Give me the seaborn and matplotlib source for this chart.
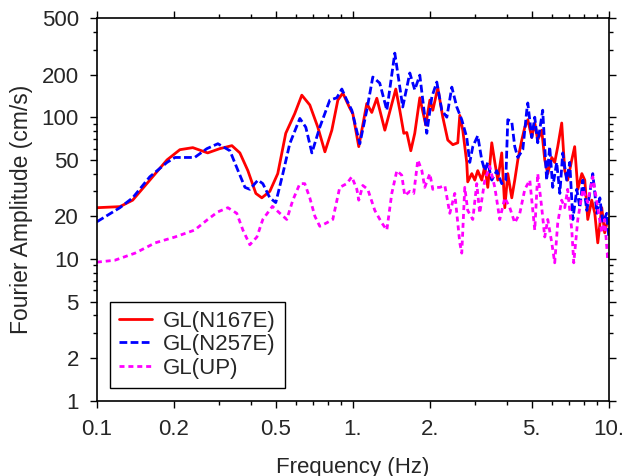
import matplotlib
matplotlib.use("Agg")
import matplotlib.pyplot as plt
from matplotlib.ticker import FixedLocator, FixedFormatter, NullFormatter, LogLocator
import pandas as pd
import seaborn as sns

# Fourier amplitude spectra
FREQ_NS = [0.100, 0.123, 0.138, 0.161, 0.188, 0.211, 0.237, 0.271, 0.302, 0.337,
           0.362, 0.389, 0.418, 0.441, 0.474, 0.509, 0.547, 0.593, 0.632, 0.679,
           0.730, 0.778, 0.828, 0.874, 0.914, 0.973, 1.000, 1.055, 1.134, 1.186,
           1.241, 1.334, 1.472, 1.526, 1.582, 1.625, 1.685, 1.746, 1.827, 1.928,
           2.000, 2.054, 2.148, 2.247, 2.350, 2.459, 2.571, 2.618, 2.689, 2.787,
           2.812, 2.917, 2.996, 3.077, 3.190, 3.279, 3.368, 3.491, 3.588, 3.685,
           3.819, 3.925, 4.032, 4.179, 4.293, 4.413, 4.573, 4.699, 4.827, 5.003,
           5.139, 5.279, 5.472, 5.623, 5.777, 5.990, 6.150, 6.320, 6.550, 6.730,
           6.910, 7.170, 7.360, 7.570, 7.850, 8.060, 8.280, 8.580, 8.820, 9.060,
           9.390, 9.640, 9.910, 10.00]
AMP_NS = [23, 23.4, 26, 36, 50, 59, 61, 56, 60, 63,
          56, 42, 29, 27, 30, 40, 77, 106, 143, 122,
          85, 57, 81, 132, 148, 116, 106, 62, 125, 108,
          136, 81, 158, 112, 77, 78, 58, 77, 137, 88,
          132, 112, 161, 100, 69, 64, 66, 103, 81, 48,
          35, 40, 36, 42, 36, 45, 32, 66, 48, 36,
          56, 23, 40, 27, 36, 50, 69, 85, 96, 72,
          91, 69, 81, 50, 40, 52, 48, 62, 91, 42,
          36, 50, 62, 31, 40, 36, 19, 26, 21, 13,
          23, 15.3, 19, 18]

FREQ_EW = [0.100, 0.123, 0.138, 0.161, 0.188, 0.202, 0.241, 0.269, 0.297, 0.331,
           0.356, 0.379, 0.396, 0.426, 0.445, 0.474, 0.500, 0.533, 0.567, 0.621,
           0.655, 0.692, 0.743, 0.813, 0.866, 0.906, 0.947, 0.991, 1.065, 1.134,
           1.197, 1.274, 1.358, 1.459, 1.567, 1.670, 1.746, 1.827, 1.945, 2.036,
           2.129, 2.227, 2.330, 2.437, 2.548, 2.665, 2.787, 2.864, 2.943, 3.077,
           3.190, 3.279, 3.368, 3.491, 3.652, 3.819, 3.960, 4.032, 4.179, 4.293,
           4.413, 4.615, 4.784, 4.827, 5.003, 5.139, 5.279, 5.520, 5.720, 5.880,
           6.040, 6.260, 6.440, 6.610, 6.850, 7.040, 7.240, 7.500, 7.710, 7.920,
           8.210, 8.430, 8.660, 8.990, 9.230, 9.480, 9.820, 10.00]
AMP_EW = [18.3, 23, 27, 38, 48, 52, 52, 60, 65, 58,
          42, 32, 31, 36, 34, 27, 25, 40, 65, 98,
          85, 56, 85, 132, 137, 158, 132, 112, 65, 112,
          192, 174, 112, 283, 118, 205, 156, 198, 77, 139,
          177, 112, 100, 163, 118, 96, 72, 48, 62, 74,
          50, 42, 48, 36, 42, 34, 36, 96, 93, 62,
          52, 59, 112, 126, 72, 100, 66, 112, 36, 62,
          32, 48, 29, 56, 36, 48, 19, 31, 23, 36,
          22, 29, 40, 21, 27, 18, 21, 14.3]

FREQ_UP = [0.100, 0.1175, 0.141, 0.169, 0.202, 0.241, 0.271, 0.297, 0.325, 0.352,
           0.372, 0.396, 0.422, 0.445, 0.485, 0.519, 0.552, 0.583, 0.621, 0.649,
           0.679, 0.711, 0.743, 0.791, 0.835, 0.889, 0.947, 0.991, 1.037, 1.055,
           1.094, 1.144, 1.219, 1.297, 1.358, 1.420, 1.486, 1.553, 1.596, 1.670,
           1.730, 1.795, 1.861, 1.910, 2.000, 2.054, 2.129, 2.187, 2.288, 2.393,
           2.503, 2.618, 2.665, 2.738, 2.812, 2.943, 3.050, 3.133, 3.279, 3.429,
           3.588, 3.751, 3.925, 4.105, 4.293, 4.492, 4.699, 4.914, 5.139, 5.279,
           5.472, 5.623, 5.777, 5.990, 6.150, 6.320, 6.550, 6.730, 6.910, 7.170,
           7.300, 7.570, 7.920, 8.280, 8.660, 9.060, 9.390, 9.640, 9.910, 10.00]
AMP_UP = [9.5, 9.8, 11, 13, 14.3, 16, 19, 21.5, 23, 21,
          16, 12.6, 14.3, 19, 23.5, 21, 19, 26, 34, 34,
          27, 20, 17, 18, 19, 32, 34, 38, 31, 26,
          33, 31, 22, 18, 16, 29, 42, 39, 28, 30,
          29, 50, 42, 32, 40, 31, 32, 32, 33, 21,
          29, 13, 11, 32, 22, 19, 34, 21, 36, 45,
          32, 19, 27, 23, 18, 21, 31, 36, 16, 40,
          23, 14.3, 19, 13, 9.4, 18, 26, 23, 31, 16,
          9.4, 19, 31, 25, 38, 23, 15.3, 19, 9.9, 11.6]

SERIES = ["GL(N167E)", "GL(N257E)", "GL(UP)"]
X_TICKS = [0.1, 0.2, 0.5, 1, 2, 5, 10]
X_LABELS = ["0.1", "0.2", "0.5", "1.", "2.", "5.", "10."]
Y_TICKS = [1, 2, 5, 10, 20, 50, 100, 200, 500]
Y_LABELS = ["1", "2", "5", "10", "20", "50", "100", "200", "500"]

df = pd.concat([
    pd.DataFrame({"freq": FREQ_NS, "amp": AMP_NS, "series": SERIES[0]}),
    pd.DataFrame({"freq": FREQ_EW, "amp": AMP_EW, "series": SERIES[1]}),
    pd.DataFrame({"freq": FREQ_UP, "amp": AMP_UP, "series": SERIES[2]}),
], ignore_index=True)

sns.set_style("ticks")
plt.rcParams["font.family"] = ["Liberation Sans", "DejaVu Sans"]

fig = plt.figure(figsize=(6.25, 4.76), dpi=100)
ax = fig.add_axes([0.155, 0.158, 0.819, 0.804])

sns.lineplot(
    data=df, x="freq", y="amp", hue="series", style="series",
    palette={SERIES[0]: "#ff0000", SERIES[1]: "#0000ff", SERIES[2]: "#ff00ff"},
    dashes={SERIES[0]: "", SERIES[1]: (2.8, 1.2), SERIES[2]: (1.8, 1.4)},
    estimator=None, sort=False, linewidth=2, ax=ax,
)

ax.set_xscale("log")
ax.set_yscale("log")
ax.set_xlim(0.1, 10)
ax.set_ylim(1, 500)

ax.xaxis.set_major_locator(FixedLocator(X_TICKS))
ax.xaxis.set_major_formatter(FixedFormatter(X_LABELS))
ax.xaxis.set_minor_locator(LogLocator(base=10, subs=[3, 4, 6, 7, 8, 9]))
ax.xaxis.set_minor_formatter(NullFormatter())
ax.yaxis.set_major_locator(FixedLocator(Y_TICKS))
ax.yaxis.set_major_formatter(FixedFormatter(Y_LABELS))
ax.yaxis.set_minor_locator(LogLocator(base=10, subs=[3, 4, 6, 7, 8, 9]))
ax.yaxis.set_minor_formatter(NullFormatter())

ax.tick_params(which="both", direction="out", top=True, right=True,
               color="black", width=1)
ax.tick_params(which="major", length=5, labelsize=16, pad=8)
ax.tick_params(which="minor", length=3)
for s in ax.spines.values():
    s.set_color("black")
    s.set_linewidth(1.2)

ax.set_xlabel("Frequency (Hz)", fontsize=16, labelpad=12)
ax.set_ylabel("Fourier Amplitude (cm/s)", fontsize=16.5, labelpad=6)

sns.move_legend(
    ax, "lower left", bbox_to_anchor=(0.025, 0.034), borderaxespad=0,
    title=None, frameon=True, fancybox=False, edgecolor="black",
    framealpha=1, fontsize=16, handlelength=1.5, labelspacing=0.12,
    borderpad=0.4, handletextpad=0.5,
)
ax.get_legend().get_frame().set_linewidth(1.0)

plt.savefig("out.png", dpi=100)
